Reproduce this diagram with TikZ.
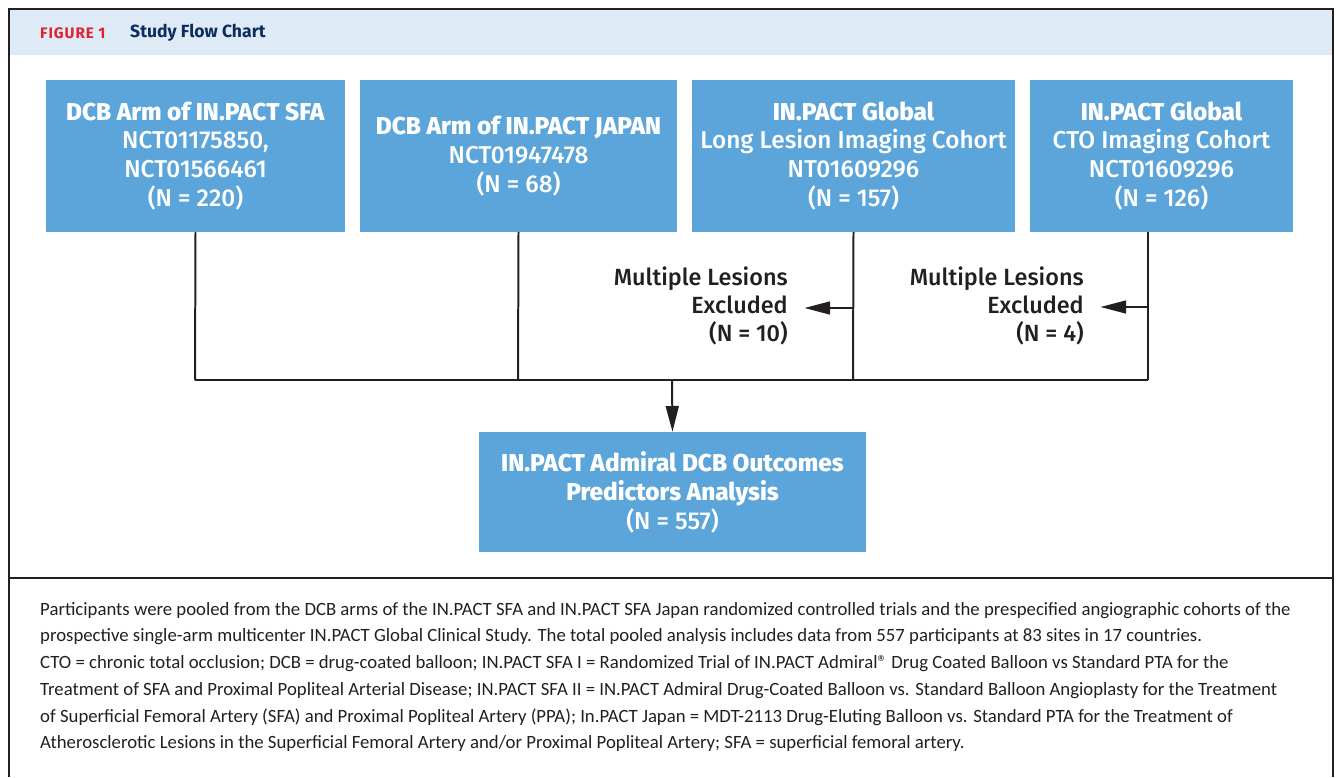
\documentclass[tikz,border=0pt]{standalone}
\usepackage{fontspec}
\setmainfont{Fira Sans}
\newfontfamily\medfont{Fira Sans Medium}
\newfontfamily\notefont{Carlito}
\usetikzlibrary{arrows.meta}
\definecolor{boxblue}{HTML}{5BA5DA}
\definecolor{band}{HTML}{DEEAF6}
\definecolor{figred}{HTML}{E3212E}
\definecolor{navy}{HTML}{0C2D5E}
\definecolor{ink}{HTML}{231F20}
\tikzset{
  box/.style={fill=boxblue,text=white,align=center,inner sep=0pt,font=\medfont\fontsize{20.8}{24.7}\selectfont},
  ln/.style={draw=ink,line width=1.7pt},
  ar/.style={ln,-{Triangle[length=22pt,width=11pt]}},
  excl/.style={align=right,anchor=east,text=ink,inner sep=0pt,font=\medfont\fontsize{20}{23.8}\selectfont},
}
\begin{document}
\begin{tikzpicture}[x=0.03cm,y=-0.03cm]
  \useasboundingbox (0,0) rectangle (1336,777);
  % frame and header
  \fill[band] (9,9) rectangle (1333,55);
  \draw[ink,line width=1.6pt] (9,777) -- (9,9) -- (1333,9) -- (1333,777);
  \draw[ink,line width=1.2pt] (9,578) -- (1333,578);
  \node[anchor=west,inner sep=0pt,text=figred,font=\fontsize{13}{15}\selectfont\bfseries\addfontfeatures{LetterSpace=6}] (fig) at (40,33) {FIGURE 1};
  \node[anchor=west,inner sep=0pt,text=navy,font=\fontsize{15}{17}\selectfont\bfseries] (title) at (130,33) {Study Flow Chart};

  % source trials
  \node[box,minimum width=8.97cm,minimum height=4.56cm] (sfa) at (195.5,156)
    {\textbf{DCB Arm of IN.PACT SFA}\\NCT01175850,\\NCT01566461\\(N = 220)};
  \node[box,minimum width=9.51cm,minimum height=4.56cm] (jpn) at (518.5,156)
    {\textbf{DCB Arm of IN.PACT JAPAN}\\NCT01947478\\(N = 68)};
  \node[box,minimum width=9.69cm,minimum height=4.56cm] (llc) at (853.5,156)
    {\textbf{IN.PACT Global}\\Long Lesion Imaging Cohort\\NT01609296\\(N = 157)};
  \node[box,minimum width=7.89cm,minimum height=4.56cm] (cto) at (1161.5,156)
    {\textbf{IN.PACT Global}\\CTO Imaging Cohort\\NCT01609296\\(N = 126)};

  % pooled analysis
  \node[box,minimum width=11.61cm,minimum height=3.6cm] (pool) at (672.5,492)
    {\textbf{IN.PACT Admiral DCB Outcomes}\\\textbf{Predictors Analysis}\\(N = 557)};

  % exclusions
  \node[excl] (exA) at (788,306) {Multiple Lesions\\Excluded\\(N = 10)};
  \node[excl] (exB) at (1084,306) {Multiple Lesions\\Excluded\\(N = 4)};

  \coordinate (ctoout) at (1148,232);
  \coordinate (j1) at (195,380);
  \coordinate (j2) at (518,380);
  \coordinate (j3) at (853,380);
  \coordinate (j4) at (1148,380);
  \coordinate (jm) at (672,380);
  \coordinate (sA) at (853,308);
  \coordinate (sB) at (1148,307);

  \draw[ln] (sfa.south) -- (j1);
  \draw[ln] (jpn.south) -- (j2);
  \draw[ln] (llc.south) -- (j3);
  \draw[ln] (ctoout) -- (j4);
  \draw[ln] (j1) -- (j4);
  \draw[ar] (sA) -- ([xshift=14pt]sA -| exA.east);
  \draw[ar] (sB) -- ([xshift=14pt]sB -| exB.east);
  \draw[ar] (jm) -- (pool.north);

  % note
  \node[anchor=north west,align=left,inner sep=0pt,text=ink,font=\notefont\fontsize{16}{22.8}\selectfont] (note) at (40,602)
    {Participants were pooled from the DCB arms of the IN.PACT SFA and IN.PACT SFA Japan randomized controlled trials and the prespecified angiographic cohorts of the\\
     prospective single-arm multicenter IN.PACT Global Clinical Study. The total pooled analysis includes data from 557 participants at 83 sites in 17 countries.\\
     CTO = chronic total occlusion; DCB = drug-coated balloon; IN.PACT SFA I = Randomized Trial of IN.PACT Admiral® Drug Coated Balloon vs Standard PTA for the\\
     Treatment of SFA and Proximal Popliteal Arterial Disease; IN.PACT SFA II = IN.PACT Admiral Drug-Coated Balloon vs. Standard Balloon Angioplasty for the Treatment\\
     of Superficial Femoral Artery (SFA) and Proximal Popliteal Artery (PPA); In.PACT Japan = MDT-2113 Drug-Eluting Balloon vs. Standard PTA for the Treatment of\\
     Atherosclerotic Lesions in the Superficial Femoral Artery and/or Proximal Popliteal Artery; SFA = superficial femoral artery.};
\end{tikzpicture}
\end{document}
